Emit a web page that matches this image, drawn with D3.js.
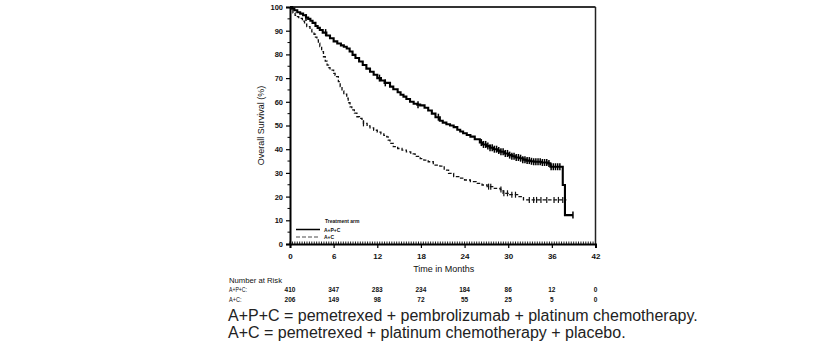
<!DOCTYPE html>
<html><head><meta charset="utf-8">
<script src="https://cdn.jsdelivr.net/npm/d3@7"></script>
<style>body{margin:0;background:#fff;}svg{display:block;}</style>
</head><body>
<svg id="c" width="828" height="341"></svg>
<script>
// ---- data ----
const seriesNames = ["A+P+C", "A+C"];
const apcMonths = [0,0.3,0.6,1,1.4,1.8,2.2,2.5,2.8,3.1,3.5,3.8,4.1,4.5,5,5.5,6,6.5,7,7.4,7.8,8.2,8.6,9,9.5,10,10.5,11,11.5,12,12.5,13,13.75,14.2,14.8,15.2,15.6,16,16.5,17,17.5,17.9,18.5,19,19.5,20,20.6,21,21.5,22,22.5,23,23.4,23.8,24.3,24.8,25.4,26.1,26.5,27,27.5,28,28.5,28.9,29.5,30,30.5,31,31.6,32,32.5,33,33.5,34.5,35.5,35.8,37.5,37.8,38.9];
const apcSurv   = [100,99.3,98.6,97.8,97.2,96.5,95.6,95,94.2,93.3,92,91.2,90.3,89.2,88,86.8,85.5,84.6,83.8,83.2,82.5,81.2,79.8,78.5,77,75.5,74,72.7,71.4,70,69,68,66.4,65.3,64,63,62.2,61.2,60,59.2,58.8,58.5,57.5,56.3,55,53.5,52,51.2,50.5,50,49.3,48.2,47.5,46.7,46,45.3,44.2,42.8,42,41.3,40.6,40,39.4,38.9,38.2,37.5,37,36.5,36.2,35.6,35.2,34.9,34.7,34.4,34.0,32.6,24.9,12.2,12.2];
const apcCensor = [2.2,4.9,12.3,13.1,17.6,20.4,26.3,26.6,26.9,27.2,27.5,27.8,28.1,28.4,28.7,29.0,29.3,29.6,29.9,30.2,30.5,30.8,31.1,31.4,31.7,32.0,32.3,32.6,32.9,33.2,33.5,33.8,34.1,34.4,34.7,35.0,35.3,35.6,35.9,36.2,36.5,36.8,37.1,38.9];
const acMonths = [0,0.2,0.4,0.7,0.9,1.2,1.4,1.7,2,2.3,2.75,3.0,3.3,3.5,3.7,3.9,4.1,4.35,4.6,4.85,5.1,5.3,5.5,6.0,6.2,6.4,6.65,6.9,7.15,7.4,7.8,8.0,8.25,8.5,8.85,9.2,9.55,9.9,10.1,10.6,11.0,11.5,12,12.5,12.9,13.3,13.5,13.75,14.2,14.8,15.4,16.0,16.6,17.2,17.9,18.4,19.0,19.7,20.6,21.2,21.8,22.5,23.2,24,24.8,25.6,26.4,27.1,28,28.9,29.3,30.2,31.4,32.1,38.0];
const acSurv   = [100,99,97.5,96.5,95.9,95.5,95.2,94,92.8,91.7,90.5,89.5,88.5,87.3,86.1,84.7,83.3,81.2,79,77.2,75.5,74.4,73.4,72,71.2,70.6,68.5,66.4,64.6,63.2,61.5,59.6,57.9,56.6,55.2,53.7,53,52.3,50.9,49.8,49.0,48.0,47.2,46.5,45.8,45.2,43.8,42.5,41.1,40.3,39.6,38.9,38,37,36.0,35.4,34.7,33.3,32.9,31.2,29.8,28.4,27.8,27.0,26.3,25.6,24.9,24.2,23.5,23.0,21.4,20.8,20.0,18.6,18.6];
const acCensor = [10.1,27.3,27.6,29.0,29.4,29.9,30.5,31.0,32.9,33.5,33.9,34.5,35.3,36.3,36.9,37.5];
const xTicks = [0,6,12,18,24,30,36,42];
const yTicks = [0,10,20,30,40,50,60,70,80,90,100];
const riskRows = ["A+P+C:", "A+C:"];
const riskAPC = [410,347,283,234,184,86,12,0];
const riskAC  = [206,149,98,72,55,25,5,0];
const footnotes = ["A+P+C = pemetrexed + pembrolizumab + platinum chemotherapy.",
                   "A+C = pemetrexed + platinum chemotherapy + placebo."];

// ---- drawing ----
const svg = d3.select("#c");
const x = d3.scaleLinear().domain([0,42]).range([290,595.5]);
const y = d3.scaleLinear().domain([0,100]).range([244,7]);
const F = "Liberation Sans, Arial, sans-serif";

// frame top/right
svg.append("line").attr("x1",x(0)).attr("x2",x(42)).attr("y1",y(100)).attr("y2",y(100))
  .attr("stroke","#333").attr("stroke-width",2);
svg.append("line").attr("x1",x(42)).attr("x2",x(42)).attr("y1",y(100)).attr("y2",y(0))
  .attr("stroke","#222").attr("stroke-width",1.5);

// y axis
const ya = svg.append("g").attr("transform",`translate(${x(0)},0)`)
  .call(d3.axisLeft(y).tickValues(yTicks).tickSize(4).tickPadding(3));
ya.select(".domain").attr("stroke","#000").attr("stroke-width",2);
ya.selectAll(".tick line").attr("stroke","#000").attr("stroke-width",1.2);
ya.selectAll("text").attr("font-family",F).attr("font-size",7.5).attr("font-weight","bold").attr("fill","#111");
svg.append("g").selectAll("line").data(d3.range(5,100,10)).join("line")
  .attr("x1",x(0)-2.5).attr("x2",x(0)).attr("y1",d=>y(d)).attr("y2",d=>y(d))
  .attr("stroke","#000").attr("stroke-width",1);

// x axis
const xa = svg.append("g").attr("transform",`translate(0,${y(0)})`)
  .call(d3.axisBottom(x).tickValues(xTicks).tickSize(4).tickPadding(5));
xa.select(".domain").attr("stroke","#000").attr("stroke-width",2);
xa.selectAll(".tick line").attr("stroke","#000").attr("stroke-width",1.2);
xa.selectAll("text").attr("font-family",F).attr("font-size",8).attr("font-weight","bold").attr("fill","#111");
svg.append("g").selectAll("line").data(d3.range(0,42,1/3)).join("line")
  .attr("x1",d=>x(d)).attr("x2",d=>x(d)).attr("y1",y(0)-2.5).attr("y2",y(0))
  .attr("stroke","#000").attr("stroke-width",0.9);

// titles
svg.append("text").attr("transform",`translate(264,${y(50)}) rotate(-90)`)
  .attr("text-anchor","middle").attr("font-family",F).attr("font-size",9).attr("fill","#111")
  .text("Overall Survival (%)");
svg.append("text").attr("x",x(21)+1).attr("y",272).attr("text-anchor","middle")
  .attr("font-family",F).attr("font-size",9).attr("fill","#111").text("Time in Months");

// curves
const line = d3.line().x(d=>x(d[0])).y(d=>y(d[1])).curve(d3.curveStepAfter);
const apc = apcMonths.map((m,i)=>[m,apcSurv[i]]);
const ac = acMonths.map((m,i)=>[m,acSurv[i]]);
svg.append("path").attr("d",line(ac)).attr("fill","none").attr("stroke","#111")
  .attr("stroke-width",1.3).attr("stroke-dasharray","3.5,2");
svg.append("path").attr("d",line(apc)).attr("fill","none").attr("stroke","#000")
  .attr("stroke-width",2.1);

function survAt(ms, ss, t){ let v=ss[0]; for(let i=0;i<ms.length;i++){ if(ms[i]<=t) v=ss[i]; } return v; }
svg.append("g").selectAll("line").data(apcCensor).join("line")
  .attr("x1",d=>x(d)).attr("x2",d=>x(d))
  .attr("y1",d=>y(survAt(apcMonths,apcSurv,d))-3.5).attr("y2",d=>y(survAt(apcMonths,apcSurv,d))+3.5)
  .attr("stroke","#000").attr("stroke-width",1.5);
svg.append("g").selectAll("line").data(acCensor).join("line")
  .attr("x1",d=>x(d)).attr("x2",d=>x(d))
  .attr("y1",d=>y(survAt(acMonths,acSurv,d))-3).attr("y2",d=>y(survAt(acMonths,acSurv,d))+3)
  .attr("stroke","#111").attr("stroke-width",1.2);

// legend
const lg = svg.append("g").attr("font-family",F).attr("font-size",5).attr("font-weight","bold").attr("fill","#111");
lg.append("text").attr("x",325).attr("y",223).text("Treatment arm");
lg.append("line").attr("x1",296).attr("x2",320).attr("y1",229.5).attr("y2",229.5).attr("stroke","#000").attr("stroke-width",1.5);
lg.append("text").attr("x",324).attr("y",231.5).text(seriesNames[0]);
lg.append("line").attr("x1",296).attr("x2",320).attr("y1",237).attr("y2",237).attr("stroke","#888").attr("stroke-width",1.3).attr("stroke-dasharray","4,2");
lg.append("text").attr("x",324).attr("y",239).text(seriesNames[1]);

// number at risk
const rk = svg.append("g").attr("font-family",F).attr("fill","#111");
rk.append("text").attr("x",229).attr("y",283).attr("font-size",6.5).attr("textLength",53).attr("lengthAdjust","spacingAndGlyphs").text("Number at Risk");
rk.append("text").attr("x",229).attr("y",292).attr("font-size",6.5).attr("textLength",18).attr("lengthAdjust","spacingAndGlyphs").text(riskRows[0]);
rk.append("text").attr("x",229).attr("y",302).attr("font-size",6.5).attr("textLength",12.5).attr("lengthAdjust","spacingAndGlyphs").text(riskRows[1]);
rk.selectAll("text.r1").data(riskAPC).join("text").attr("class","r1")
  .attr("x",(d,i)=>x(xTicks[i])).attr("y",292).attr("text-anchor","middle")
  .attr("font-size",6.5).attr("font-weight","bold").text(d=>d);
rk.selectAll("text.r2").data(riskAC).join("text").attr("class","r2")
  .attr("x",(d,i)=>x(xTicks[i])).attr("y",302).attr("text-anchor","middle")
  .attr("font-size",6.5).attr("font-weight","bold").text(d=>d);

// footnotes
svg.append("g").selectAll("text").data(footnotes).join("text")
  .attr("x",228).attr("y",(d,i)=>321+i*17).attr("font-family",F).attr("font-size",16).attr("fill","#222")
  .text(d=>d);
</script>
</body></html>
